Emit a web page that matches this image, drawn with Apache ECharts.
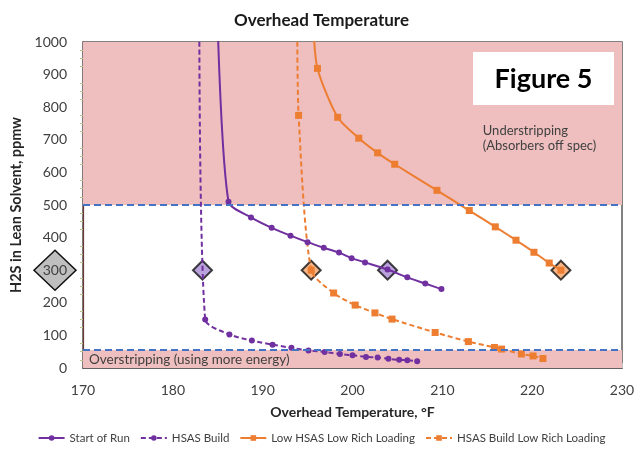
<!DOCTYPE html>
<html><head><meta charset="utf-8">
<script src="https://cdn.jsdelivr.net/npm/echarts@6/dist/echarts.min.js"></script>
<style>html,body{margin:0;padding:0;background:#fff}#c{width:643px;height:451px}</style>
</head><body><div id="c"></div>
<script>
const FONT = 'Lato, "Open Sans", sans-serif';

// ---- data ----
const xTicks = [170, 180, 190, 200, 210, 220, 230];
const yTicks = [0, 100, 200, 300, 400, 500, 600, 700, 800, 900, 1000];

const startOfRunX = [185.0, 186.2, 188.7, 191.0, 193.1, 195.0, 196.8, 198.5, 199.9, 201.4, 203.9, 206.1, 208.1, 209.9];
const startOfRunY = [1050, 510, 462, 430, 406, 386, 369, 354, 337, 324, 302, 278, 259, 242];

const hsasBuildX = [182.95, 183.6, 186.3, 188.8, 191.1, 193.2, 195.1, 196.9, 198.6, 200.0, 201.5, 202.8, 204.0, 205.2, 206.1, 207.2];
const hsasBuildY = [1050, 149, 103, 84, 71.5, 62, 54, 49, 43, 39, 34, 32, 28, 25, 24, 21];

const lowHsasX = [195.65, 196.1, 198.35, 200.7, 202.8, 204.7, 209.4, 213.0, 215.9, 218.2, 220.2, 221.9, 223.2];
const lowHsasY = [1050, 919, 769, 705, 660, 625, 545, 483, 433, 392, 355, 322, 300];

const hsasLowRichX = [193.85, 194.0, 195.4, 197.9, 200.3, 202.5, 204.4, 209.2, 212.9, 215.8, 216.6, 218.8, 220.1, 221.2];
const hsasLowRichY = [1050, 775, 300, 230, 193, 169, 150, 109, 81, 63, 58, 43, 37, 29];

const diamondsPurpleX = [183.3, 203.9];
const diamondsPurpleY = [300, 300];
const diamondsOrangeX = [195.4, 223.2];
const diamondsOrangeY = [300, 300];

const understripBand = [500, 1000];
const overstripBand = [0, 55];
const specLines = [500, 55];

const seriesNames = ['Start of Run', 'HSAS Build', 'Low HSAS Low Rich Loading', 'HSAS Build Low Rich Loading'];
const understripText = 'Understripping\n(Absorbers off spec)';
const overstripText = 'Overstripping (using more energy)';
const figureText = 'Figure 5';
const highlightTick = 300;

// ---- build ----
const PURPLE = '#7030a0';
const ORANGE = '#ed7d31';

function pts(xs, ys) {
  return xs.map((x, i) => {
    const item = { value: [x, ys[i]] };
    if (ys[i] > 1000) item.symbol = 'none';
    return item;
  });
}

function lineSeries(name, xs, ys, color, dashed, symbol, size) {
  return {
    name, type: 'line', data: pts(xs, ys), smooth: 0.25, z: 4,
    symbol, symbolSize: size, showSymbol: true,
    lineStyle: { color, width: 2, type: dashed ? [5, 3] : 'solid' },
    itemStyle: { color },
    emphasis: { disabled: true }, clip: true
  };
}

const chart = echarts.init(document.getElementById('c'), null, { renderer: 'canvas' });

const option = {
  animation: false,
  backgroundColor: '#ffffff',
  textStyle: { fontFamily: FONT },
  title: {
    text: 'Overhead Temperature', left: 'center', top: 7,
    textStyle: { fontFamily: FONT, fontSize: 17, fontWeight: 'bold', color: '#1a1a1a' }
  },
  grid: { left: 83, right: 21, top: 42, bottom: 83, show: true, borderColor: '#595959', borderWidth: 1.5, containLabel: false },
  legend: {
    data: seriesNames, bottom: 2, left: 'center', itemWidth: 26, itemHeight: 7, itemGap: 10,
    textStyle: { fontFamily: FONT, fontSize: 11.5, color: '#404040' }
  },
  xAxis: {
    type: 'value', min: xTicks[0], max: xTicks[xTicks.length - 1], interval: xTicks[1] - xTicks[0],
    name: 'Overhead Temperature, °F', nameLocation: 'middle', nameGap: 37,
    nameTextStyle: { fontFamily: FONT, fontSize: 14, fontWeight: 'bold', color: '#262626' },
    axisLine: { show: true, lineStyle: { color: '#595959', width: 1.5 } },
    axisTick: { show: true, inside: true, length: 5, lineStyle: { color: '#bfbfbf' } },
    axisLabel: { fontSize: 14, color: '#404040', margin: 15, fontFamily: FONT, formatter: v => String(v) },
    splitLine: { show: false }
  },
  yAxis: {
    type: 'value', min: yTicks[0], max: yTicks[yTicks.length - 1], interval: yTicks[1] - yTicks[0],
    name: 'H2S in Lean Solvent, ppmw', nameLocation: 'middle', nameGap: 53,
    nameTextStyle: { fontFamily: FONT, fontSize: 14.5, fontWeight: 'bold', color: '#262626' },
    axisLine: { show: true, lineStyle: { color: '#6b3a34', width: 1.2 } },
    axisTick: { show: false },
    minorTick: { show: true, splitNumber: 4, length: 3, lineStyle: { color: '#b8c48c' } },
    axisLabel: { fontSize: 14, color: '#404040', margin: 16, fontFamily: FONT, formatter: v => String(v) },
    splitLine: { show: false }
  },
  series: [
    {
      name: 'bands', type: 'scatter', data: [], z: 1, silent: true,
      markArea: {
        silent: true,
        itemStyle: { color: '#efbfbf' },
        label: { show: false },
        data: [
          [{ yAxis: understripBand[0] }, { yAxis: understripBand[1] }],
          [{ yAxis: overstripBand[0], label: { show: true, position: 'insideLeft', formatter: overstripText, fontSize: 13.5, color: '#404040', fontFamily: FONT, offset: [1, 1] } }, { yAxis: overstripBand[1] }]
        ]
      },
      markLine: {
        silent: true, symbol: ['none', 'none'], label: { show: false },
        lineStyle: { color: '#4472c4', type: [7, 4], width: 1.8 },
        data: specLines.map(v => ({ yAxis: v }))
      }
    },
    {
      name: 'diamondsP', type: 'scatter', z: 3, symbol: 'diamond', symbolSize: [19, 19],
      data: diamondsPurpleX.map((x, i) => [x, diamondsPurpleY[i]]),
      itemStyle: { color: '#a98bd3', borderColor: '#111', borderWidth: 2 }, silent: true
    },
    {
      name: 'diamondsO', type: 'scatter', z: 3, symbol: 'diamond', symbolSize: [19, 19],
      data: diamondsOrangeX.map((x, i) => [x, diamondsOrangeY[i]]),
      itemStyle: { color: '#f5a46a', borderColor: '#111', borderWidth: 2 }, silent: true
    },
    lineSeries(seriesNames[0], startOfRunX, startOfRunY, PURPLE, false, 'circle', 6),
    lineSeries(seriesNames[1], hsasBuildX, hsasBuildY, PURPLE, true, 'circle', 6),
    lineSeries(seriesNames[2], lowHsasX, lowHsasY, ORANGE, false, 'rect', 7),
    lineSeries(seriesNames[3], hsasLowRichX, hsasLowRichY, ORANGE, true, 'rect', 7)
  ]
};
chart.setOption(option);

// annotations anchored to the grid
const p300 = chart.convertToPixel({ gridIndex: 0 }, [xTicks[0], highlightTick]);
const pUnder = chart.convertToPixel({ gridIndex: 0 }, [214.5, 600]);
const pTopRight = chart.convertToPixel({ gridIndex: 0 }, [xTicks[xTicks.length - 1], yTicks[yTicks.length - 1]]);
const cx = p300[0] - 28, cy = p300[1];
chart.setOption({
  graphic: [
    {
      type: 'polygon', z: -1, silent: true,
      shape: { points: [[cx, cy - 20], [cx + 21, cy], [cx, cy + 20], [cx - 21, cy]] },
      style: { fill: '#bfbfbf', stroke: '#111', lineWidth: 1.5 }
    },
    {
      type: 'text', z: 10, silent: true, left: pUnder[0], top: pUnder[1] - 49,
      style: { text: understripText, font: '13px ' + FONT, fill: '#404040', lineHeight: 15 }
    },
    {
      type: 'rect', z: 10, silent: true,
      shape: { x: pTopRight[0] - 149, y: pTopRight[1] + 10, width: 141, height: 53 },
      style: { fill: '#ffffff' }
    },
    {
      type: 'text', z: 11, silent: true,
      x: pTopRight[0] - 78.5, y: pTopRight[1] + 37,
      style: { text: figureText, font: 'bold 27px ' + FONT, fill: '#000', align: 'center', verticalAlign: 'middle' }
    }
  ]
});
</script>
</body></html>
